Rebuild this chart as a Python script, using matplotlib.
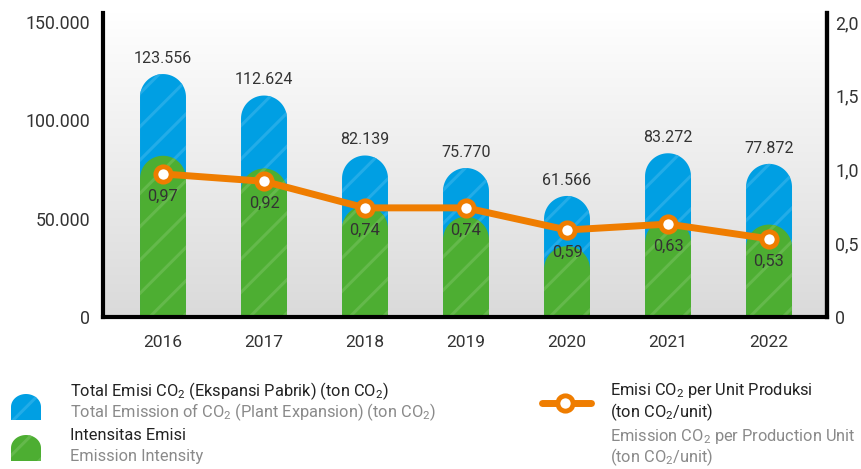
import numpy as np
import matplotlib
matplotlib.use("Agg")
import matplotlib.pyplot as plt
from matplotlib.path import Path
from matplotlib.patches import PathPatch
from matplotlib.colors import LinearSegmentedColormap

plt.rcParams['font.family'] = ['Roboto', 'DejaVu Sans']
plt.rcParams['mathtext.default'] = 'regular'
plt.rcParams['hatch.linewidth'] = 2.2

years = ['2016', '2017', '2018', '2019', '2020', '2021', '2022']
total_emission = [123556, 112624, 82139, 75770, 61566, 83272, 77872]
emission_intensity = [82000, 75500, 56500, 51000, 36000, 49500, 47000]
per_unit = [0.97, 0.92, 0.74, 0.74, 0.59, 0.63, 0.53]

left_ticks = [0, 50000, 100000, 150000]
left_ticklabels = ['0', '50.000', '100.000', '150.000']
right_ticks = [0, 0.5, 1.0, 1.5, 2.0]
right_ticklabels = ['0', '0,5', '1,0', '1,5', '2,0']

BLUE = '#009FE3'
BLUE_H = '#22ACE8'
GREEN = '#4DAE32'
GREEN_H = '#64B94B'
ORANGE = '#EF7D00'
TXT = '#333333'

W, H = 862, 469
fig = plt.figure(figsize=(W / 100, H / 100), dpi=100)
ax_l, ax_r, ax_t, ax_b = 103, 827, 13, 317
ax = fig.add_axes([ax_l / W, 1 - ax_b / H, (ax_r - ax_l) / W, (ax_b - ax_t) / H])
ax.set_xlim(-0.594, 6.574)
ylim_top = 154600
ax.set_ylim(0, ylim_top)

# gradient background
grad = np.linspace(0, 1, 256).reshape(-1, 1)
cmap = LinearSegmentedColormap.from_list('g', ['#DADADA', '#FFFFFF'])
ax.imshow(grad, extent=[-0.594, 6.574, 0, ylim_top], origin='lower', aspect='auto',
          cmap=cmap, zorder=0)

x = np.arange(len(years))
bw = 0.455
axes_h_px = ax_b - ax_t
r_px = 23
ry = r_px / axes_h_px * ylim_top


def rounded_path(xc, h, w, ry_):
    rx = w / 2
    t = np.linspace(np.pi, 0, 40)
    arc = np.column_stack([xc + rx * np.cos(t), h - ry_ + ry_ * np.sin(t)])
    verts = [(xc - rx, 0), (xc - rx, h - ry_)] + [tuple(p) for p in arc] + [(xc + rx, 0), (xc - rx, 0)]
    codes = [Path.MOVETO] + [Path.LINETO] * (len(verts) - 2) + [Path.CLOSEPOLY]
    return Path(verts, codes)


for xi, v in zip(x, total_emission):
    ax.add_patch(PathPatch(rounded_path(xi, v, bw, ry), facecolor=BLUE, edgecolor=BLUE_H,
                           hatch='/', linewidth=0, zorder=2))
    ax.annotate(f"{v:,}".replace(",", "."), (xi, v), xytext=(0, 6), textcoords='offset points',
                ha='center', va='bottom', fontsize=11.5, color=TXT, zorder=5)

for xi, v in zip(x, emission_intensity):
    ax.add_patch(PathPatch(rounded_path(xi, v, bw, ry), facecolor=GREEN, edgecolor=GREEN_H,
                           hatch='/', linewidth=0, zorder=3))

ax.set_xticks(x)
ax.set_xticklabels(years, fontsize=12.5, color=TXT)
ax.set_yticks(left_ticks)
ax.set_yticklabels(left_ticklabels, fontsize=12.8, color=TXT)
ax.tick_params(axis='both', length=0)
ax.tick_params(axis='x', pad=13)
ax.tick_params(axis='y', pad=9)

ax.spines['top'].set_visible(False)
for s in ['left', 'bottom', 'right']:
    ax.spines[s].set_linewidth(3)
    ax.spines[s].set_color('black')
    ax.spines[s].set_zorder(6)

ax2 = ax.twinx()
ax2.set_ylim(0, ylim_top / 150000 * 2.0)
ax2.set_yticks(right_ticks)
ax2.set_yticklabels(right_ticklabels, fontsize=12.8, color=TXT)
ax2.tick_params(axis='y', length=0, pad=6)
ax2.spines['top'].set_visible(False)
ax2.spines['left'].set_visible(False)
ax2.spines['bottom'].set_visible(False)
ax2.spines['right'].set_linewidth(3)
ax2.spines['right'].set_color('black')

ax2.plot(x, per_unit, color=ORANGE, lw=5, marker='o', markersize=11,
         markerfacecolor='white', markeredgecolor=ORANGE, markeredgewidth=3.5, zorder=4)
for xi, v in zip(x, per_unit):
    ax2.annotate(f"{v:.2f}".replace(".", ","), (xi, v), xytext=(0, -16), textcoords='offset points',
                 ha='center', va='center', fontsize=11.8, color=TXT, zorder=5)

# legend (pixel coordinates overlay)
lg = fig.add_axes([0, 0, 1, 1], zorder=10)
lg.set_xlim(0, W)
lg.set_ylim(H, 0)
lg.axis('off')


def legend_icon(x0, y0, w, h, fc, hc):
    rx = w / 2
    r = 13
    t = np.linspace(np.pi, 2 * np.pi, 30)
    arc = np.column_stack([x0 + rx + rx * np.cos(t), y0 + r + r * np.sin(t)])
    verts = [(x0, y0 + h), (x0, y0 + r)] + [tuple(p) for p in arc] + [(x0 + w, y0 + h), (x0, y0 + h)]
    codes = [Path.MOVETO] + [Path.LINETO] * (len(verts) - 2) + [Path.CLOSEPOLY]
    lg.add_patch(PathPatch(Path(verts, codes), facecolor=fc, edgecolor=hc, hatch='/', linewidth=0))


legend_icon(11, 394, 30, 26, BLUE, BLUE_H)
legend_icon(11, 435, 30, 26, GREEN, GREEN_H)

LFS = 11.8
DARK = '#222222'
GRAY = '#8A8A8A'
lg.text(70, 391, 'Total Emisi CO$_2$ (Ekspansi Pabrik) (ton CO$_2$)', fontsize=LFS, color=DARK, va='center')
lg.text(70, 412, 'Total Emission of CO$_2$ (Plant Expansion) (ton CO$_2$)', fontsize=LFS, color=GRAY, va='center')
lg.text(70, 436, 'Intensitas Emisi', fontsize=LFS, color=DARK, va='center')
lg.text(70, 457, 'Emission Intensity', fontsize=LFS, color=GRAY, va='center')

lg.plot([542, 591], [403, 403], color=ORANGE, lw=5, solid_capstyle='round')
lg.plot([565], [403], marker='o', markersize=11, markerfacecolor='white',
        markeredgecolor=ORANGE, markeredgewidth=3.5)
lg.text(610, 391, 'Emisi CO$_2$ per Unit Produksi', fontsize=LFS, color=DARK, va='center')
lg.text(610, 412, '(ton CO$_2$/unit)', fontsize=LFS, color=DARK, va='center')
lg.text(610, 436, 'Emission CO$_2$ per Production Unit', fontsize=LFS, color=GRAY, va='center')
lg.text(610, 457, '(ton CO$_2$/unit)', fontsize=LFS, color=GRAY, va='center')

fig.savefig('out.png', dpi=100)
